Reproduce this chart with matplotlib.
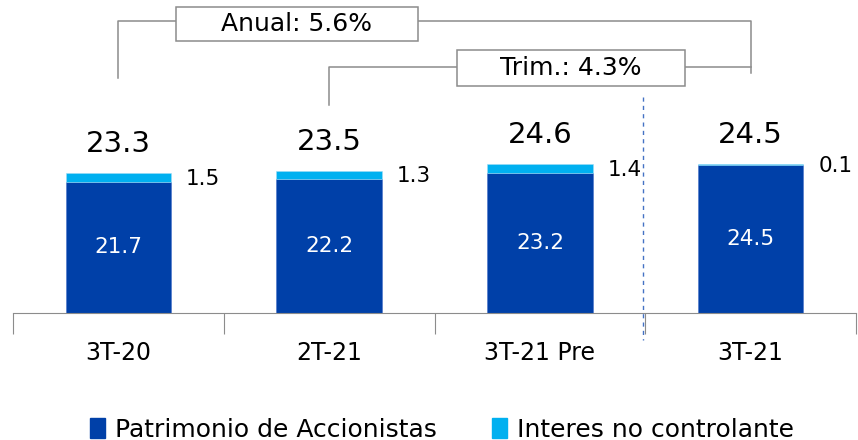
import matplotlib
matplotlib.use("Agg")
import matplotlib.pyplot as plt
from matplotlib.patches import Patch, Rectangle
import numpy as np

# -----------------------------
# DATA
# -----------------------------
categories   = ["3T-20", "2T-21", "3T-21 Pre", "3T-21"]
patrimonio   = [21.7, 22.2, 23.2, 24.5]
no_control   = [1.5, 1.3, 1.4, 0.1]
totals       = [23.3, 23.5, 24.6, 24.5]
series_names = ["Patrimonio de Accionistas", "Interes no controlante"]
anual_label  = "Anual: 5.6%"
trim_label   = "Trim.: 4.3%"

DARK  = "#0040A8"
LIGHT = "#00B0F0"
GREY  = "#8C8C8C"

plt.rcParams["font.family"] = ["DejaVu Sans"]

W, H = 858, 440
fig = plt.figure(figsize=(W / 100, H / 100), dpi=100)
# axes: x from 13px to 856px, baseline at 313px, top at figure top
ax = fig.add_axes([13 / W, (H - 313) / H, (856 - 13) / W, 313 / H])

x = np.arange(len(categories))
ax.bar(x, patrimonio, width=0.5, color=DARK, edgecolor="#5b80cc", linewidth=0.6)
ax.bar(x, no_control, width=0.5, bottom=patrimonio, color=LIGHT, edgecolor="#9fdcf5", linewidth=0.4)

ax.set_xlim(-0.5, len(categories) - 0.5)
ax.set_ylim(0, 51.8)

# labels
for i in range(len(categories)):
    ax.text(x[i], patrimonio[i] / 2, f"{patrimonio[i]:.1f}", ha="center", va="center",
            color="white", fontsize=15.5)
    ax.annotate(f"{totals[i]:.1f}", (x[i], patrimonio[i] + no_control[i]),
                xytext=(0, 11), textcoords="offset points", ha="center", va="bottom",
                fontsize=21, color="black")
    ax.annotate(f"{no_control[i]:.1f}", (x[i], patrimonio[i] + no_control[i] / 2),
                xytext=(61, -1), textcoords="offset points", ha="center", va="center",
                fontsize=15.5, color="black")

# axis styling
for s in ["top", "right", "left"]:
    ax.spines[s].set_visible(False)
ax.spines["bottom"].set_color(GREY)
ax.set_yticks([])
ax.set_xticks(x)
ax.set_xticklabels(categories, fontsize=17)
ax.tick_params(axis="x", which="major", length=0, pad=20)
ax.set_xticks(np.arange(-0.5, len(categories)), minor=True)
ax.tick_params(axis="x", which="minor", length=15, color=GREY, width=0.8)

# dashed separator
ax.plot([2.49, 2.49], [35.8, -4.5], ls=(0, (3, 3)), color="#4472C4", lw=1, clip_on=False)

# brackets
top_y = 48.3
ax.plot([x[0], x[0], x[3], x[3]], [totals[0] + 15.6, top_y, top_y, totals[3] + 15.2],
        color=GREY, lw=1.1)
trim_y = 40.7
ax.plot([x[1], x[1], x[3]], [totals[1] + 10.9, trim_y, trim_y], color=GREY, lw=1.1)

def label_box(cx, cy, w, h, text):
    ax.add_patch(Rectangle((cx - w / 2, cy - h / 2), w, h, facecolor="white",
                           edgecolor=GREY, lw=1.1, zorder=3))
    ax.text(cx, cy, text, ha="center", va="center", fontsize=18, zorder=4)

label_box(0.847, 47.8, 1.148, 5.63, anual_label)
label_box(2.148, 40.6, 1.082, 5.96, trim_label)

# legend
handles = [Patch(color=DARK), Patch(color=LIGHT)]
fig.legend(handles, series_names, loc="lower center", bbox_to_anchor=(0.515, -0.055),
           ncol=2, frameon=False, fontsize=18, handlelength=0.6, handleheight=0.8,
           handletextpad=0.4, columnspacing=2.2)

fig.savefig("out.png", dpi=100)
